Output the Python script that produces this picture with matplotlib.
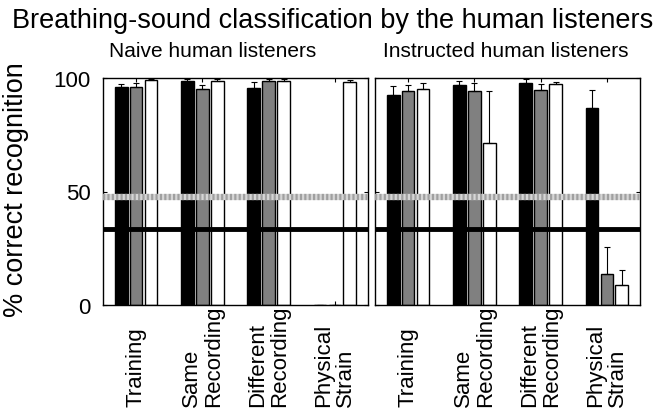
import matplotlib
matplotlib.use("Agg")
import matplotlib.pyplot as plt
import matplotlib.transforms as mtransforms
import numpy as np

plt.rcParams['font.family'] = ['Liberation Sans', 'DejaVu Sans']

groups = ["Training", "Same\nRecording", "Different\nRecording", "Physical\nStrain"]
titles = ["Naive human listeners", "Instructed human listeners"]

# rows: black, gray, white bars ; columns: groups
naive = np.array([[96, 98.5, 95.6, 0],
                  [96.2, 95.2, 98.8, 0],
                  [99.1, 98.5, 98.7, 98.1]])
naive_err = np.array([[1.5, 1.0, 2.8, 0],
                      [1.6, 1.8, 0.8, 0],
                      [0.5, 1.0, 0.8, 1.2]])
instr = np.array([[92.6, 97.0, 97.9, 86.9],
                  [94.1, 94.4, 94.8, 13.8],
                  [95.2, 71.4, 97.5, 8.8]])
instr_err = np.array([[4.0, 1.8, 1.6, 8.0],
                      [2.9, 3.4, 2.4, 11.6],
                      [2.8, 23.0, 0.9, 6.5]])
chance = 33.3
level2 = 47.5

colors = ['black', '#808080', 'white']

fig = plt.figure(figsize=(6.66, 4.10), dpi=100)
fig.text(333/666, 1-28/410, "Breathing-sound classification by the human listeners",
         ha='center', va='baseline', fontsize=19.5)
fig.text(16/666, 1-190/410, "% correct recognition", rotation=90,
         ha='center', va='center', fontsize=19.5)

axpos = [[103/666, 1-306/410, 265/666, 227/410],
         [375/666, 1-306/410, 265/666, 227/410]]
title_x = [213/666, 506/666]
x = np.arange(1, 5)
for k, (vals, errs) in enumerate([(naive, naive_err), (instr, instr_err)]):
    ax = fig.add_axes(axpos[k])
    for j in range(3):
        xx = x + (j - 1) * 0.225
        ax.bar(xx, vals[j], width=0.19, color=colors[j], edgecolor='black',
               linewidth=1.0, zorder=2)
        ax.errorbar(xx, vals[j], yerr=[np.zeros(4), errs[j]], fmt='none',
                    ecolor='black', elinewidth=0.8, capsize=2.3, capthick=0.8,
                    zorder=3)
    ax.axhline(level2, color='#d6d6d6', lw=4.5, zorder=4)
    ax.axhline(level2, color='#a0a0a0', lw=4.5, ls=(0, (0.35, 0.35)), zorder=4)
    ax.axhline(chance, color='black', lw=3.5, zorder=5)
    ax.set_xlim(0.5, 4.5)
    ax.set_ylim(0, 100)
    ax.set_yticks([0, 50, 100])
    ax.set_xticks(x)
    ax.set_xticklabels([])
    ax.tick_params(direction='in', length=3, width=0.8, top=True, right=True,
                   labelsize=16, pad=9)
    if k == 1:
        ax.set_yticklabels([])
    for sp in ax.spines.values():
        sp.set_linewidth(1.0)
    fig.text(title_x[k], 1-57/410, titles[k], ha='center', va='baseline', fontsize=15)
    tr = mtransforms.blended_transform_factory(ax.transData, fig.transFigure)
    for i, g in enumerate(groups):
        ax.text(x[i], 3/410, g, rotation=90, ha='center', va='bottom',
                multialignment='left', fontsize=16, linespacing=1.05,
                transform=tr)

fig.savefig("out.png", dpi=100)
